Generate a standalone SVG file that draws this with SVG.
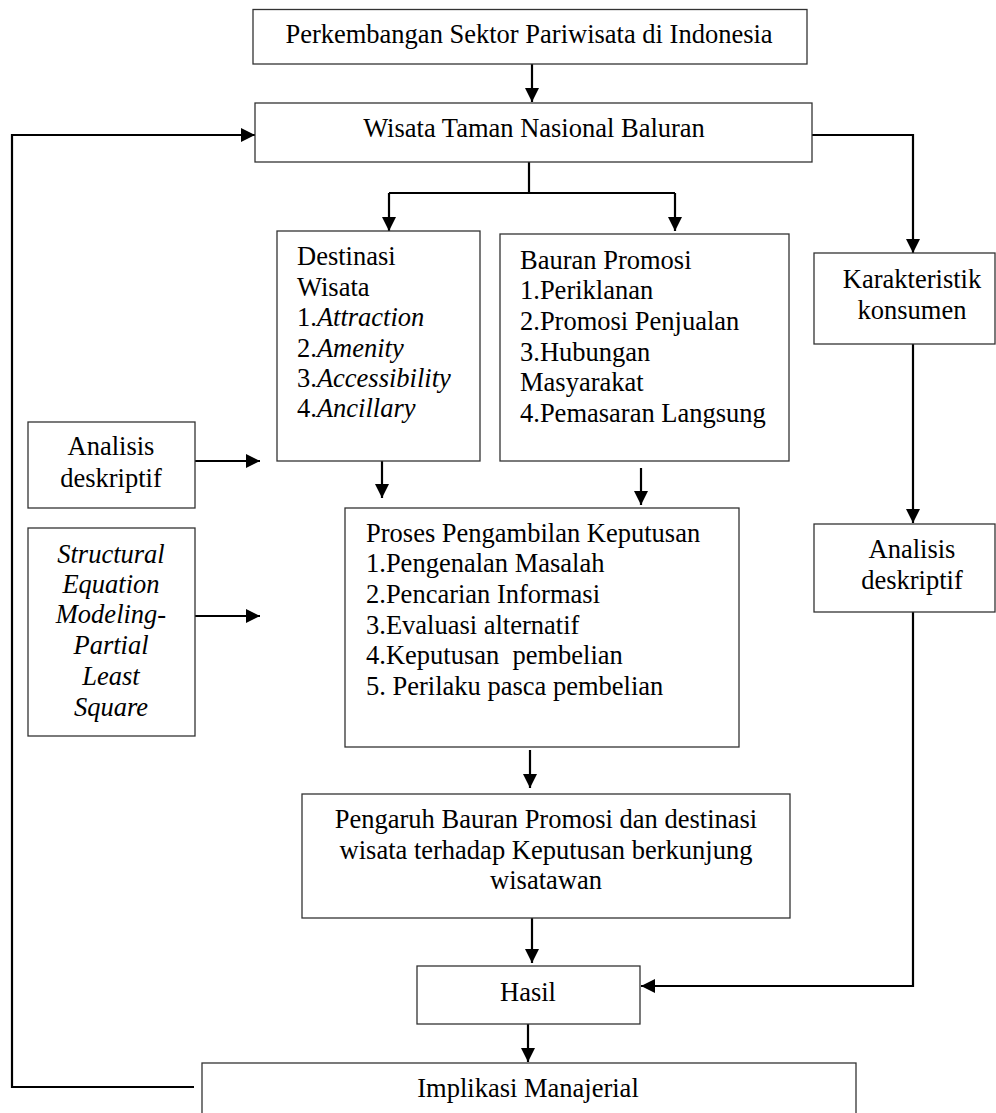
<svg xmlns="http://www.w3.org/2000/svg" width="996" height="1113" viewBox="0 0 996 1113">
<style>
rect.box{fill:#fff;stroke:#333;stroke-width:1.3}
text{font-family:"Liberation Serif","Times New Roman",serif;font-size:26.5px;fill:#000;white-space:pre}
.c{text-anchor:middle}
.i{font-style:italic}
#connectors path{fill:none;stroke:#000;stroke-width:2.2}
</style>
<defs>
<marker id="ah" markerUnits="userSpaceOnUse" markerWidth="16" markerHeight="14" refX="14" refY="7" orient="auto">
<path d="M0,0 L14,7 L0,14 Z" fill="#000"/>
</marker>
</defs>
<rect width="996" height="1113" fill="#fff"/>
<g id="connectors">
<path d="M532,64 V102" marker-end="url(#ah)"/>
<path d="M529,162 V193 M389,193 H675"/>
<path d="M389,193 V231" marker-end="url(#ah)"/>
<path d="M675,193 V231" marker-end="url(#ah)"/>
<path d="M812,135 H913 V253" marker-end="url(#ah)"/>
<path d="M913,344 V523" marker-end="url(#ah)"/>
<path d="M913,612 V986 H641" marker-end="url(#ah)"/>
<path d="M382,461 V498" marker-end="url(#ah)"/>
<path d="M641,468 V505" marker-end="url(#ah)"/>
<path d="M195,461 H260" marker-end="url(#ah)"/>
<path d="M195,616 H260" marker-end="url(#ah)"/>
<path d="M530,750 V788" marker-end="url(#ah)"/>
<path d="M532,918 V963" marker-end="url(#ah)"/>
<path d="M528,1024 V1062" marker-end="url(#ah)"/>
<path d="M194,1087 H12 V135 H255" marker-end="url(#ah)"/>
</g>
<g id="n-perkembangan">
<rect class="box" x="253" y="9.5" width="554" height="54.5"/>
<text class="c" x="529" y="43">Perkembangan Sektor Pariwisata di Indonesia</text>
</g>
<g id="n-wisata">
<rect class="box" x="255" y="103" width="557" height="59"/>
<text class="c" x="534" y="137">Wisata Taman Nasional Baluran</text>
</g>
<g id="n-destinasi">
<rect class="box" x="277" y="231" width="203" height="230"/>
<text x="297" y="265">Destinasi</text>
<text x="297" y="296">Wisata</text>
<text x="297" y="326">1.<tspan class="i">Attraction</tspan></text>
<text x="297" y="357">2.<tspan class="i">Amenity</tspan></text>
<text x="297" y="387">3.<tspan class="i">Accessibility</tspan></text>
<text x="297" y="417">4.<tspan class="i">Ancillary</tspan></text>
</g>
<g id="n-bauran">
<rect class="box" x="500" y="234" width="289" height="227"/>
<text x="520" y="269">Bauran Promosi</text>
<text x="520" y="299">1.Periklanan</text>
<text x="520" y="330">2.Promosi Penjualan</text>
<text x="520" y="361">3.Hubungan</text>
<text x="520" y="391">Masyarakat</text>
<text x="520" y="422">4.Pemasaran Langsung</text>
</g>
<g id="n-karakteristik">
<rect class="box" x="814" y="253" width="181" height="91"/>
<text class="c" x="912" y="288">Karakteristik</text>
<text class="c" x="912" y="319">konsumen</text>
</g>
<g id="n-analisis-kiri">
<rect class="box" x="28" y="422" width="167" height="86"/>
<text class="c" x="111" y="455">Analisis</text>
<text class="c" x="111" y="487">deskriptif</text>
</g>
<g id="n-sem">
<rect class="box" x="28" y="528" width="167" height="208"/>
<text class="c i" x="111" y="563">Structural</text>
<text class="c i" x="111" y="593">Equation</text>
<text class="c i" x="111" y="623">Modeling-</text>
<text class="c i" x="111" y="654">Partial</text>
<text class="c i" x="111" y="685">Least</text>
<text class="c i" x="111" y="716">Square</text>
</g>
<g id="n-proses">
<rect class="box" x="345" y="508" width="394" height="239"/>
<text x="366" y="542">Proses Pengambilan Keputusan</text>
<text x="366" y="572">1.Pengenalan Masalah</text>
<text x="366" y="603">2.Pencarian Informasi</text>
<text x="366" y="634">3.Evaluasi alternatif</text>
<text x="366" y="664">4.Keputusan  pembelian</text>
<text x="366" y="695">5. Perilaku pasca pembelian</text>
</g>
<g id="n-analisis-kanan">
<rect class="box" x="814" y="524" width="181" height="88"/>
<text class="c" x="912" y="558">Analisis</text>
<text class="c" x="912" y="589">deskriptif</text>
</g>
<g id="n-pengaruh">
<rect class="box" x="302" y="794" width="488" height="124"/>
<text class="c" x="546" y="828">Pengaruh Bauran Promosi dan destinasi</text>
<text class="c" x="546" y="859">wisata terhadap Keputusan berkunjung</text>
<text class="c" x="546" y="889">wisatawan</text>
</g>
<g id="n-hasil">
<rect class="box" x="417" y="966" width="223" height="58"/>
<text class="c" x="528" y="1001">Hasil</text>
</g>
<g id="n-implikasi">
<rect class="box" x="202" y="1063" width="654" height="60"/>
<text class="c" x="528" y="1097">Implikasi Manajerial</text>
</g>
</svg>
